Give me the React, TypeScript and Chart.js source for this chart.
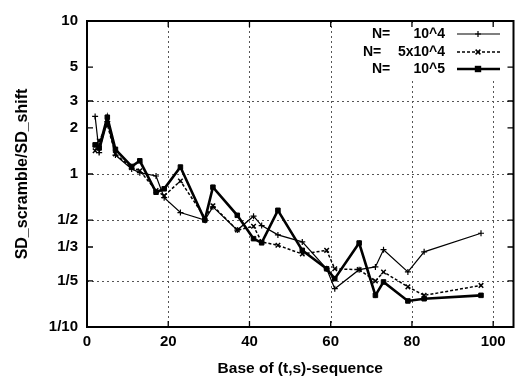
import React, { useEffect, useRef } from "react";
import { Chart, registerables } from "chart.js";
Chart.register(...registerables);

const bases = [2, 3, 5, 7, 11, 13, 17, 19, 23, 29, 31, 37, 41, 43, 47, 53, 59, 61, 67, 71, 73, 79, 83, 97];
const sdN1e4 = [2.38, 1.38, 2.2, 1.33, 1.08, 1.02, 0.97, 0.7, 0.56, 0.5, 0.61, 0.43, 0.53, 0.46, 0.4, 0.36, 0.24, 0.178, 0.237, 0.247, 0.32, 0.229, 0.31, 0.41];
const sdN5e4 = [1.42, 1.65, 2.1, 1.35, 1.1, 1.05, 0.78, 0.72, 0.9, 0.52, 0.62, 0.43, 0.455, 0.36, 0.342, 0.3, 0.317, 0.24, 0.237, 0.2, 0.229, 0.183, 0.161, 0.187];
const sdN1e5 = [1.55, 1.48, 2.35, 1.45, 1.12, 1.22, 0.76, 0.8, 1.11, 0.5, 0.82, 0.537, 0.378, 0.355, 0.579, 0.317, 0.24, 0.207, 0.354, 0.161, 0.197, 0.148, 0.153, 0.161];

const yTickValues = [0.1, 0.2, 1 / 3, 0.5, 1, 2, 3, 5, 10];
const yTickLabels = ["1/10", "1/5", "1/3", "1/2", "1", "2", "3", "5", "10"];
const yGridValues = [0.2, 0.5, 1, 3];
const xTickValues = [0, 20, 40, 60, 80, 100];
const xGridValues = [20, 40, 60, 80, 100];
const legendPrefix = "N=";
const legendValues = ["10^4", "5x10^4", "10^5"];
const xTitle = "Base of (t,s)-sequence";
const yTitle = "SD_scramble/SD_shift";

const FONT = "'Liberation Sans', Arial, Helvetica, sans-serif";

const seriesStyles = [
  { width: 1.2, dash: [] as number[], point: "cross", radius: 3, pw: 1.2 },
  { width: 1.5, dash: [3, 2], point: "crossRot", radius: 3.2, pw: 1.5 },
  { width: 2.6, dash: [] as number[], point: "rect", radius: 3.2, pw: 1 },
];

const framePlugin = {
  id: "frameAndLegend",
  beforeDatasetsDraw(chart: any) {
    const { ctx, chartArea: a, scales } = chart;
    const x = scales.x, y = scales.y;
    ctx.save();
    ctx.strokeStyle = "#555";
    ctx.lineWidth = 1;
    ctx.setLineDash([2, 3]);
    for (const v of yGridValues) {
      const py = Math.round(y.getPixelForValue(v)) + 0.5;
      ctx.beginPath();
      ctx.moveTo(a.left, py);
      ctx.lineTo(a.right, py);
      ctx.stroke();
    }
    for (const v of xGridValues) {
      const px = Math.round(x.getPixelForValue(v)) + 0.5;
      ctx.beginPath();
      ctx.moveTo(px, a.top);
      ctx.lineTo(px, a.bottom);
      ctx.stroke();
    }
    ctx.restore();
  },
  afterDatasetsDraw(chart: any) {
    const { ctx, chartArea: a, scales } = chart;
    const x = scales.x, y = scales.y;
    ctx.save();
    // legend background
    ctx.fillStyle = "#fff";
    ctx.fillRect(356, a.top + 5, 158, 54);
    // frame
    ctx.strokeStyle = "#000";
    ctx.lineWidth = 2;
    ctx.setLineDash([]);
    ctx.strokeRect(a.left, a.top, a.right - a.left, a.bottom - a.top);
    // inward ticks
    ctx.lineWidth = 1.3;
    const tl = 6;
    for (const v of yTickValues) {
      const py = y.getPixelForValue(v);
      ctx.beginPath();
      ctx.moveTo(a.left, py); ctx.lineTo(a.left + tl, py);
      ctx.moveTo(a.right, py); ctx.lineTo(a.right - tl, py);
      ctx.stroke();
    }
    for (const v of xTickValues) {
      const px = x.getPixelForValue(v);
      ctx.beginPath();
      ctx.moveTo(px, a.bottom); ctx.lineTo(px, a.bottom - tl);
      ctx.moveTo(px, a.top); ctx.lineTo(px, a.top + tl);
      ctx.stroke();
    }
    // legend
    const rows = [34, 52, 69];
    const prefixX = [372, 363, 372];
    ctx.font = `bold 14px ${FONT}`;
    ctx.fillStyle = "#000";
    ctx.textBaseline = "middle";
    legendValues.forEach((val, i) => {
      const ry = rows[i];
      ctx.textAlign = "left";
      ctx.fillText(legendPrefix, prefixX[i], ry);
      ctx.textAlign = "right";
      ctx.fillText(val, 445, ry);
      const st = seriesStyles[i];
      ctx.strokeStyle = "#000";
      ctx.lineWidth = st.width;
      ctx.setLineDash(st.dash);
      ctx.beginPath();
      ctx.moveTo(457, ry); ctx.lineTo(500, ry);
      ctx.stroke();
      ctx.setLineDash([]);
      const mx = 478, r = st.radius;
      ctx.lineWidth = st.pw;
      ctx.beginPath();
      if (st.point === "cross") {
        ctx.moveTo(mx - r, ry); ctx.lineTo(mx + r, ry);
        ctx.moveTo(mx, ry - r); ctx.lineTo(mx, ry + r);
        ctx.stroke();
      } else if (st.point === "crossRot") {
        const d = r * 0.75;
        ctx.moveTo(mx - d, ry - d); ctx.lineTo(mx + d, ry + d);
        ctx.moveTo(mx - d, ry + d); ctx.lineTo(mx + d, ry - d);
        ctx.stroke();
      } else {
        ctx.fillStyle = "#000";
        ctx.fillRect(mx - r, ry - r, 2 * r, 2 * r);
      }
    });
    ctx.restore();
  },
};

export default function App() {
  const ref = useRef<HTMLCanvasElement | null>(null);
  useEffect(() => {
    if (!ref.current) return;
    const series = [sdN1e4, sdN5e4, sdN1e5];
    const names = legendValues.map((v) => `${legendPrefix} ${v}`);
    const chart = new Chart(ref.current, {
      type: "line",
      data: {
        datasets: series.map((arr, i) => ({
          label: names[i],
          data: bases.map((b, j) => ({ x: b, y: arr[j] })),
          borderColor: "#000",
          backgroundColor: "#000",
          borderWidth: seriesStyles[i].width,
          borderDash: seriesStyles[i].dash,
          pointStyle: seriesStyles[i].point as any,
          pointRadius: seriesStyles[i].radius,
          pointBorderWidth: seriesStyles[i].pw,
          pointBorderColor: "#000",
          pointBackgroundColor: "#000",
          tension: 0,
          fill: false,
        })),
      },
      options: {
        responsive: false,
        animation: false,
        events: [],
        layout: { padding: { left: 0, top: 21, right: 1, bottom: 0 } },
        plugins: { legend: { display: false }, tooltip: { enabled: false } },
        scales: {
          x: {
            type: "linear",
            min: 0,
            max: 105,
            afterBuildTicks: (s: any) => {
              s.ticks = xTickValues.map((v) => ({ value: v }));
            },
            afterFit: (s: any) => {
              s.height = 49;
            },
            grid: { display: false, drawTicks: false },
            border: { display: false },
            ticks: {
              autoSkip: false,
              maxRotation: 0,
              padding: 6,
              color: "#000",
              font: { family: FONT, size: 15, weight: "bold" },
              callback: (v: any) => String(v),
            },
            title: {
              display: true,
              text: xTitle,
              color: "#000",
              font: { family: FONT, size: 15.5, weight: "bold", lineHeight: 1 },
              padding: { top: 0, bottom: 0 },
            },
          },
          y: {
            type: "logarithmic",
            min: 0.1,
            max: 10,
            afterBuildTicks: (s: any) => {
              s.ticks = yTickValues.map((v) => ({ value: v }));
            },
            afterFit: (s: any) => {
              s.width = 87;
            },
            grid: { display: false, drawTicks: false },
            border: { display: false },
            ticks: {
              autoSkip: false,
              padding: 9,
              color: "#000",
              font: { family: FONT, size: 15, weight: "bold" },
              callback: (v: any) => {
                const idx = yTickValues.findIndex((t) => Math.abs(t - Number(v)) < 1e-6);
                return idx >= 0 ? yTickLabels[idx] : "";
              },
            },
            title: {
              display: true,
              text: yTitle,
              color: "#000",
              font: { family: FONT, size: 16, weight: "bold", lineHeight: 1 },
              padding: { top: 15, bottom: 0 },
            },
          },
        },
      },
      plugins: [framePlugin],
    } as any);
    return () => chart.destroy();
  }, []);
  return (
    <div style={{ position: "absolute", left: 0, top: 0, width: 519, height: 376, background: "#fff" }}>
      <canvas ref={ref} width={519} height={376} style={{ width: 519, height: 376, display: "block" }} />
    </div>
  );
}
